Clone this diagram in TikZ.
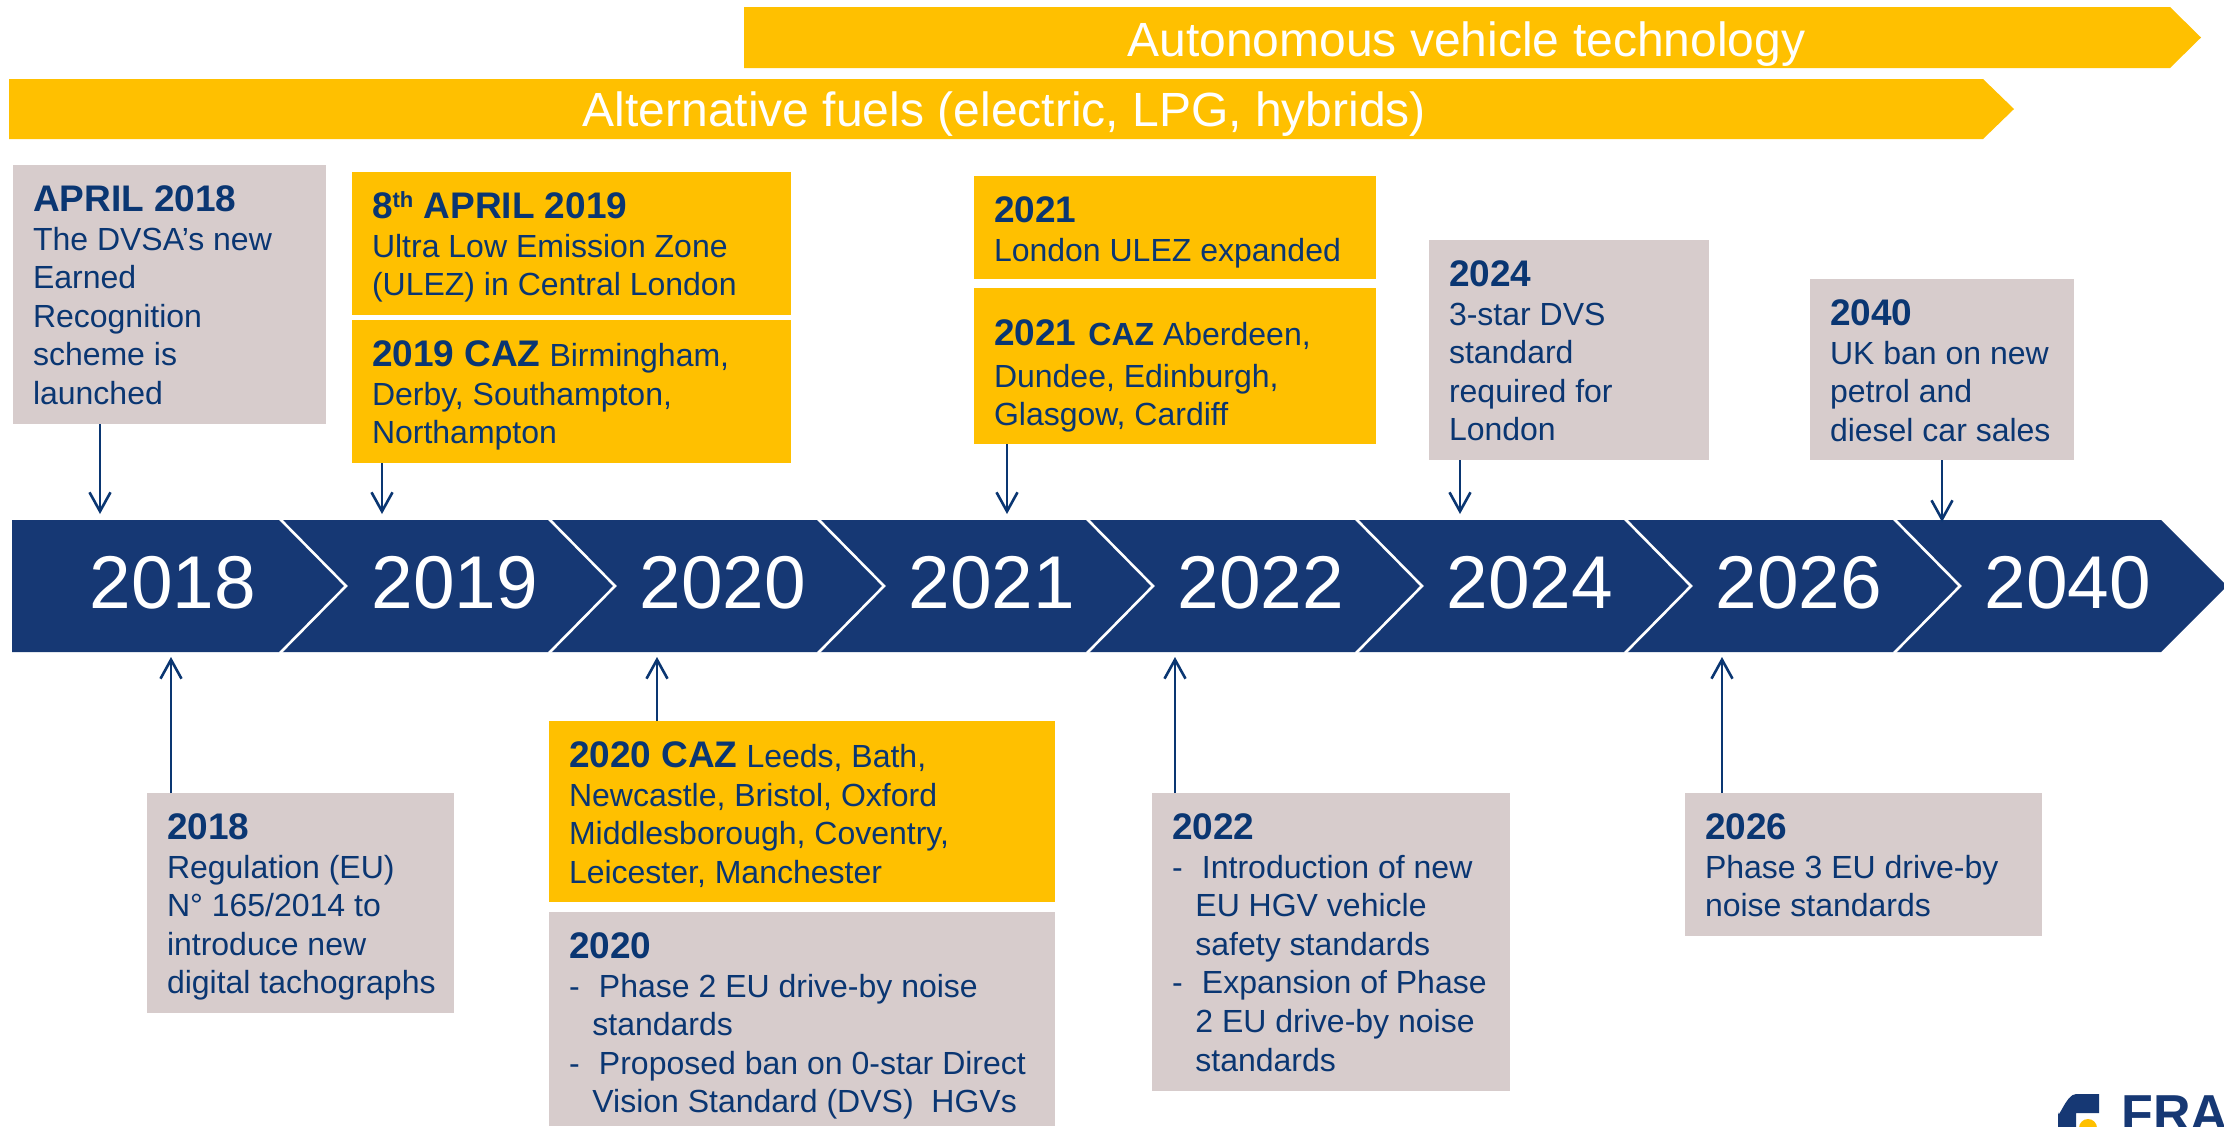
\documentclass[tikz,border=0pt]{standalone}
\usepackage{fontspec}
\setmainfont{Liberation Sans}
\usetikzlibrary{arrows.meta}
\definecolor{gold}{HTML}{FFC000}
\definecolor{greybox}{HTML}{D7CCCC}
\definecolor{bandblue}{HTML}{163874}
\definecolor{inkblue}{HTML}{0A3672}
\tikzset{
  goldbox/.style={fill=gold,text=inkblue,inner sep=0pt,outer sep=0pt},
  greyb/.style={fill=greybox,text=inkblue,inner sep=0pt,outer sep=0pt},
  arr/.style={draw=inkblue,line width=1.3pt,-{Straight Barb[length=9.5pt,width=10.5pt,line width=1.3pt]}},
  yearlabel/.style={text=white,font=\fontsize{37.4}{40}\selectfont,anchor=base,inner sep=0pt},
  barlabel/.style={text=white,font=\fontsize{24}{28}\selectfont,anchor=base,inner sep=0pt},
  chevline/.style={draw=white,line width=1.3pt,line join=miter}
}
\newcommand{\ttl}[1]{{\bfseries\fontsize{18.5}{19.3}\selectfont #1}}
\newcommand{\dashitem}[1]{\makebox[15pt][l]{-}#1}
\newcommand{\dashcont}[1]{\hspace*{11.7pt}#1}
\newcommand{\tbox}[7]{%
  \pgfmathsetlengthmacro{\bw}{(#5-#3)*0.5}%
  \pgfmathsetlengthmacro{\bh}{(#6-#4)*0.5}%
  \node[#1,anchor=north west] (#2) at (#3,#4) {\parbox[c][\bh][t]{\bw}{%
    \fontsize{16}{19.3}\selectfont\leftskip=10pt\rightskip=0pt plus 1fil\relax\parfillskip=0pt plus 1fil\relax
    \rule{0pt}{23.2pt}#7}};%
}
\begin{document}
\begin{tikzpicture}[x=0.5pt,y=-0.5pt]
\clip (0,0) rectangle (2224,1126);
\fill[white] (0,0) rectangle (2224,1126);
% top bars
\fill[gold] (744,7) -- (2170,7) -- (2201,37.5) -- (2170,68) -- (744,68) -- cycle;
\node[barlabel] (barav) at (1466.4,56) {Autonomous vehicle technology};
\fill[gold] (9,79) -- (1983,79) -- (2014,109) -- (1983,139) -- (9,139) -- cycle;
\node[barlabel] (baralt) at (1004.4,126) {Alternative fuels (electric, LPG, hybrids)};
% band
\fill[bandblue] (12,520) -- (2161,520) -- (2224,583) -- (2224,589) -- (2161,652) -- (12,652) -- cycle;
\foreach \xx in {280,549,818,1087,1356,1625,1894}{
  \draw[chevline] (\xx,519) -- (\xx+66,586) -- (\xx,653);
}
\node[yearlabel] (y18) at (173,608.7) {2018};
\node[yearlabel] (y19) at (455,608.7) {2019};
\node[yearlabel] (y20) at (723,608.7) {2020};
\node[yearlabel] (y21) at (992,608.7) {2021};
\node[yearlabel] (y22) at (1261,608.7) {2022};
\node[yearlabel] (y24) at (1530,608.7) {2024};
\node[yearlabel] (y26) at (1799,608.7) {2026};
\node[yearlabel] (y40) at (2068,608.7) {2040};
% boxes above
\tbox{greyb}{bA}{13}{165}{326}{424}{\ttl{APRIL 2018}\\The DVSA’s new\\Earned\\Recognition\\scheme is\\launched}
\tbox{goldbox}{bB}{352}{172}{791}{315}{\ttl{8\raisebox{5.5pt}{\fontsize{11}{11}\selectfont th} APRIL 2019}\\Ultra Low Emission Zone\\(ULEZ) in Central London}
\tbox{goldbox}{bC}{352}{320}{791}{463}{\ttl{2019 CAZ} Birmingham,\\Derby, Southampton,\\Northampton}
\tbox{goldbox}{bD}{974}{176}{1376}{279}{\ttl{2021}\\London ULEZ expanded}
\tbox{goldbox}{bE}{974}{288}{1376}{444}{\rule{0pt}{28.9pt}\ttl{2021}\hspace{1.6pt} {\bfseries CAZ} Aberdeen,\\[1.3pt]Dundee, Edinburgh,\\Glasgow, Cardiff}
\tbox{greyb}{bF}{1429}{240}{1709}{460}{\ttl{2024}\\3-star DVS\\standard\\required for\\London}
\tbox{greyb}{bG}{1810}{279}{2074}{460}{\ttl{2040}\\UK ban on new\\petrol and\\diesel car sales}
% boxes below
\tbox{greyb}{bH}{147}{793}{454}{1013}{\ttl{2018}\\Regulation (EU)\\N° 165/2014 to\\introduce new\\digital tachographs}
\tbox{goldbox}{bI}{549}{721}{1055}{902}{\ttl{2020 CAZ} Leeds, Bath,\\Newcastle, Bristol, Oxford\\Middlesborough, Coventry,\\Leicester, Manchester}
\tbox{greyb}{bJ}{549}{912}{1055}{1126}{\ttl{2020}\\\dashitem{Phase 2 EU drive-by noise}\\\dashcont{standards}\\\dashitem{Proposed ban on 0-star Direct}\\\dashcont{Vision Standard (DVS)\ \ HGVs}}
\tbox{greyb}{bK}{1152}{793}{1510}{1091}{\ttl{2022}\\\dashitem{Introduction of new}\\\dashcont{EU HGV vehicle}\\\dashcont{safety standards}\\\dashitem{Expansion of Phase}\\\dashcont{2 EU drive-by noise}\\\dashcont{standards}}
\tbox{greyb}{bL}{1685}{793}{2042}{936}{\ttl{2026}\\Phase 3 EU drive-by\\noise standards}
% connector ends
\coordinate (tA) at (100,514);
\coordinate (tC) at (382,514);
\coordinate (tE) at (1007,514);
\coordinate (tF) at (1460,514);
\coordinate (tG) at (1942,522);
\coordinate (tH) at (171,657);
\coordinate (tI) at (657,657);
\coordinate (tK) at (1175,657);
\coordinate (tL) at (1722,657);
\draw[arr] (bA.south -| tA) -- (tA);
\draw[arr] (bC.south -| tC) -- (tC);
\draw[arr] (bE.south -| tE) -- (tE);
\draw[arr] (bF.south -| tF) -- (tF);
\draw[arr] (bG.south -| tG) -- (tG);
\draw[arr] (bH.north -| tH) -- (tH);
\draw[arr] (bI.north -| tI) -- (tI);
\draw[arr] (bK.north -| tK) -- (tK);
\draw[arr] (bL.north -| tL) -- (tL);
% logo fragment
\fill[bandblue] (2058,1130) -- (2058,1112) to[out=-90,in=180] (2076,1094) -- (2099,1094) -- (2099,1113) -- (2076,1113) -- (2076,1130) -- cycle;
\fill[gold] (2088,1128) circle (9);
\node[text=bandblue,font=\bfseries\fontsize{26}{30}\selectfont,anchor=base west,inner sep=0pt] (logotext) at (2121,1131) {FRA};
\end{tikzpicture}
\end{document}
